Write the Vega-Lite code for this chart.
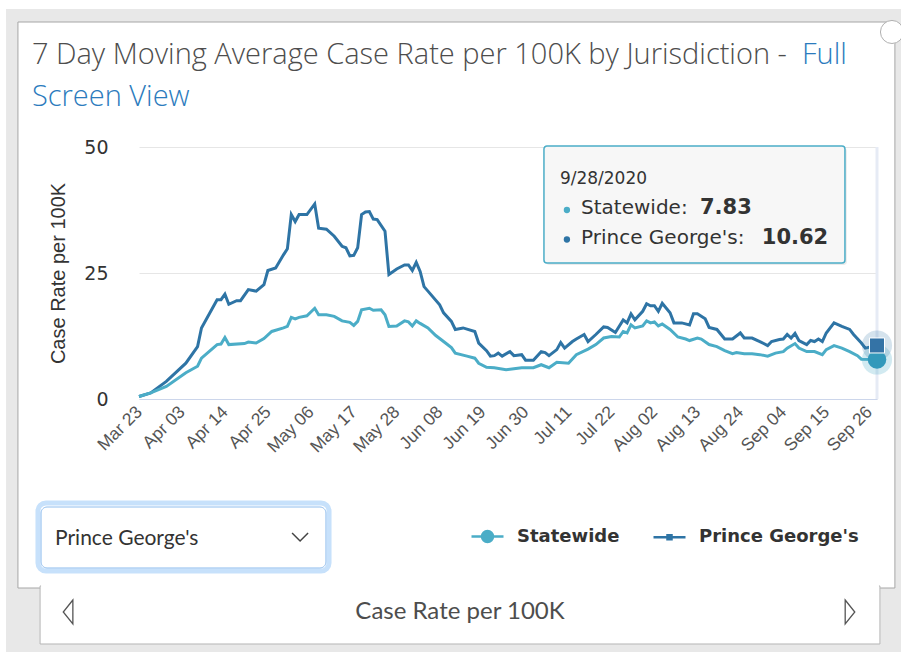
{
  "$schema": "https://vega.github.io/schema/vega-lite/v6.json",
  "width": 738,
  "height": 252,
  "autosize": {"type": "none"},
  "padding": {"left": 139, "top": 147, "right": 24, "bottom": 253},
  "background": "white",
  "config": {"view": {"stroke": null}},
  "data": {"values": [
    {"date":"2020-03-23","series":"Prince George's","rate":0.5},
    {"date":"2020-03-26","series":"Prince George's","rate":1.2},
    {"date":"2020-03-30","series":"Prince George's","rate":3.5},
    {"date":"2020-04-04","series":"Prince George's","rate":7.1},
    {"date":"2020-04-07","series":"Prince George's","rate":10.4},
    {"date":"2020-04-08","series":"Prince George's","rate":14.1},
    {"date":"2020-04-12","series":"Prince George's","rate":19.7},
    {"date":"2020-04-13","series":"Prince George's","rate":19.7},
    {"date":"2020-04-14","series":"Prince George's","rate":20.8},
    {"date":"2020-04-15","series":"Prince George's","rate":18.8},
    {"date":"2020-04-17","series":"Prince George's","rate":19.5},
    {"date":"2020-04-18","series":"Prince George's","rate":19.5},
    {"date":"2020-04-20","series":"Prince George's","rate":21.7},
    {"date":"2020-04-22","series":"Prince George's","rate":21.4},
    {"date":"2020-04-24","series":"Prince George's","rate":22.7},
    {"date":"2020-04-25","series":"Prince George's","rate":25.5},
    {"date":"2020-04-27","series":"Prince George's","rate":26.0},
    {"date":"2020-04-29","series":"Prince George's","rate":28.6},
    {"date":"2020-04-30","series":"Prince George's","rate":29.8},
    {"date":"2020-05-01","series":"Prince George's","rate":36.6},
    {"date":"2020-05-02","series":"Prince George's","rate":35.2},
    {"date":"2020-05-03","series":"Prince George's","rate":36.6},
    {"date":"2020-05-05","series":"Prince George's","rate":36.6},
    {"date":"2020-05-07","series":"Prince George's","rate":38.7},
    {"date":"2020-05-08","series":"Prince George's","rate":33.9},
    {"date":"2020-05-10","series":"Prince George's","rate":33.7},
    {"date":"2020-05-12","series":"Prince George's","rate":32.3},
    {"date":"2020-05-14","series":"Prince George's","rate":30.3},
    {"date":"2020-05-15","series":"Prince George's","rate":30.0},
    {"date":"2020-05-16","series":"Prince George's","rate":28.4},
    {"date":"2020-05-17","series":"Prince George's","rate":28.5},
    {"date":"2020-05-18","series":"Prince George's","rate":30.0},
    {"date":"2020-05-19","series":"Prince George's","rate":36.6},
    {"date":"2020-05-20","series":"Prince George's","rate":37.1},
    {"date":"2020-05-21","series":"Prince George's","rate":37.2},
    {"date":"2020-05-22","series":"Prince George's","rate":35.7},
    {"date":"2020-05-23","series":"Prince George's","rate":35.6},
    {"date":"2020-05-25","series":"Prince George's","rate":33.3},
    {"date":"2020-05-26","series":"Prince George's","rate":24.7},
    {"date":"2020-05-28","series":"Prince George's","rate":25.8},
    {"date":"2020-05-30","series":"Prince George's","rate":26.6},
    {"date":"2020-05-31","series":"Prince George's","rate":26.6},
    {"date":"2020-06-01","series":"Prince George's","rate":25.5},
    {"date":"2020-06-02","series":"Prince George's","rate":27.1},
    {"date":"2020-06-03","series":"Prince George's","rate":25.3},
    {"date":"2020-06-04","series":"Prince George's","rate":22.3},
    {"date":"2020-06-05","series":"Prince George's","rate":21.4},
    {"date":"2020-06-08","series":"Prince George's","rate":18.7},
    {"date":"2020-06-09","series":"Prince George's","rate":17.1},
    {"date":"2020-06-11","series":"Prince George's","rate":15.4},
    {"date":"2020-06-12","series":"Prince George's","rate":13.8},
    {"date":"2020-06-14","series":"Prince George's","rate":14.1},
    {"date":"2020-06-17","series":"Prince George's","rate":13.4},
    {"date":"2020-06-18","series":"Prince George's","rate":11.1},
    {"date":"2020-06-20","series":"Prince George's","rate":9.6},
    {"date":"2020-06-21","series":"Prince George's","rate":8.5},
    {"date":"2020-06-22","series":"Prince George's","rate":8.6},
    {"date":"2020-06-23","series":"Prince George's","rate":9.1},
    {"date":"2020-06-24","series":"Prince George's","rate":8.5},
    {"date":"2020-06-26","series":"Prince George's","rate":9.4},
    {"date":"2020-06-27","series":"Prince George's","rate":8.6},
    {"date":"2020-06-29","series":"Prince George's","rate":8.8},
    {"date":"2020-06-30","series":"Prince George's","rate":7.7},
    {"date":"2020-07-02","series":"Prince George's","rate":7.7},
    {"date":"2020-07-04","series":"Prince George's","rate":9.4},
    {"date":"2020-07-05","series":"Prince George's","rate":9.2},
    {"date":"2020-07-06","series":"Prince George's","rate":8.6},
    {"date":"2020-07-08","series":"Prince George's","rate":9.8},
    {"date":"2020-07-09","series":"Prince George's","rate":11.2},
    {"date":"2020-07-10","series":"Prince George's","rate":10.1},
    {"date":"2020-07-12","series":"Prince George's","rate":11.4},
    {"date":"2020-07-13","series":"Prince George's","rate":11.9},
    {"date":"2020-07-15","series":"Prince George's","rate":12.8},
    {"date":"2020-07-16","series":"Prince George's","rate":11.4},
    {"date":"2020-07-18","series":"Prince George's","rate":12.8},
    {"date":"2020-07-20","series":"Prince George's","rate":14.3},
    {"date":"2020-07-21","series":"Prince George's","rate":14.2},
    {"date":"2020-07-23","series":"Prince George's","rate":13.2},
    {"date":"2020-07-25","series":"Prince George's","rate":15.7},
    {"date":"2020-07-26","series":"Prince George's","rate":15.1},
    {"date":"2020-07-27","series":"Prince George's","rate":16.9},
    {"date":"2020-07-28","series":"Prince George's","rate":15.7},
    {"date":"2020-07-30","series":"Prince George's","rate":17.4},
    {"date":"2020-07-31","series":"Prince George's","rate":18.9},
    {"date":"2020-08-01","series":"Prince George's","rate":18.5},
    {"date":"2020-08-02","series":"Prince George's","rate":18.5},
    {"date":"2020-08-03","series":"Prince George's","rate":17.4},
    {"date":"2020-08-04","series":"Prince George's","rate":19.0},
    {"date":"2020-08-06","series":"Prince George's","rate":17.1},
    {"date":"2020-08-07","series":"Prince George's","rate":15.1},
    {"date":"2020-08-09","series":"Prince George's","rate":15.1},
    {"date":"2020-08-11","series":"Prince George's","rate":14.7},
    {"date":"2020-08-12","series":"Prince George's","rate":16.9},
    {"date":"2020-08-13","series":"Prince George's","rate":16.9},
    {"date":"2020-08-15","series":"Prince George's","rate":15.9},
    {"date":"2020-08-16","series":"Prince George's","rate":14.2},
    {"date":"2020-08-18","series":"Prince George's","rate":13.8},
    {"date":"2020-08-20","series":"Prince George's","rate":11.9},
    {"date":"2020-08-22","series":"Prince George's","rate":11.9},
    {"date":"2020-08-24","series":"Prince George's","rate":13.1},
    {"date":"2020-08-25","series":"Prince George's","rate":12.1},
    {"date":"2020-08-27","series":"Prince George's","rate":12.1},
    {"date":"2020-08-29","series":"Prince George's","rate":11.4},
    {"date":"2020-08-31","series":"Prince George's","rate":10.6},
    {"date":"2020-09-01","series":"Prince George's","rate":11.4},
    {"date":"2020-09-03","series":"Prince George's","rate":11.8},
    {"date":"2020-09-04","series":"Prince George's","rate":11.9},
    {"date":"2020-09-05","series":"Prince George's","rate":12.8},
    {"date":"2020-09-06","series":"Prince George's","rate":12.1},
    {"date":"2020-09-07","series":"Prince George's","rate":13.0},
    {"date":"2020-09-08","series":"Prince George's","rate":11.6},
    {"date":"2020-09-10","series":"Prince George's","rate":10.8},
    {"date":"2020-09-11","series":"Prince George's","rate":11.6},
    {"date":"2020-09-12","series":"Prince George's","rate":11.4},
    {"date":"2020-09-13","series":"Prince George's","rate":11.9},
    {"date":"2020-09-14","series":"Prince George's","rate":11.4},
    {"date":"2020-09-15","series":"Prince George's","rate":13.1},
    {"date":"2020-09-17","series":"Prince George's","rate":15.1},
    {"date":"2020-09-19","series":"Prince George's","rate":14.4},
    {"date":"2020-09-21","series":"Prince George's","rate":13.8},
    {"date":"2020-09-22","series":"Prince George's","rate":12.8},
    {"date":"2020-09-24","series":"Prince George's","rate":11.1},
    {"date":"2020-09-25","series":"Prince George's","rate":10.1},
    {"date":"2020-09-28","series":"Prince George's","rate":10.62},
    {"date":"2020-03-23","series":"Statewide","rate":0.5},
    {"date":"2020-03-26","series":"Statewide","rate":1.2},
    {"date":"2020-03-30","series":"Statewide","rate":2.5},
    {"date":"2020-04-04","series":"Statewide","rate":5.2},
    {"date":"2020-04-07","series":"Statewide","rate":6.5},
    {"date":"2020-04-08","series":"Statewide","rate":8.1},
    {"date":"2020-04-12","series":"Statewide","rate":10.8},
    {"date":"2020-04-13","series":"Statewide","rate":10.9},
    {"date":"2020-04-14","series":"Statewide","rate":12.2},
    {"date":"2020-04-15","series":"Statewide","rate":10.8},
    {"date":"2020-04-19","series":"Statewide","rate":11.0},
    {"date":"2020-04-20","series":"Statewide","rate":11.3},
    {"date":"2020-04-22","series":"Statewide","rate":11.1},
    {"date":"2020-04-24","series":"Statewide","rate":12.0},
    {"date":"2020-04-26","series":"Statewide","rate":13.4},
    {"date":"2020-04-29","series":"Statewide","rate":14.1},
    {"date":"2020-04-30","series":"Statewide","rate":14.4},
    {"date":"2020-05-01","series":"Statewide","rate":16.2},
    {"date":"2020-05-02","series":"Statewide","rate":15.9},
    {"date":"2020-05-03","series":"Statewide","rate":16.2},
    {"date":"2020-05-05","series":"Statewide","rate":16.5},
    {"date":"2020-05-07","series":"Statewide","rate":18.0},
    {"date":"2020-05-08","series":"Statewide","rate":16.7},
    {"date":"2020-05-10","series":"Statewide","rate":16.7},
    {"date":"2020-05-12","series":"Statewide","rate":16.4},
    {"date":"2020-05-14","series":"Statewide","rate":15.5},
    {"date":"2020-05-16","series":"Statewide","rate":15.2},
    {"date":"2020-05-17","series":"Statewide","rate":14.6},
    {"date":"2020-05-18","series":"Statewide","rate":15.4},
    {"date":"2020-05-19","series":"Statewide","rate":17.7},
    {"date":"2020-05-21","series":"Statewide","rate":18.0},
    {"date":"2020-05-22","series":"Statewide","rate":17.6},
    {"date":"2020-05-24","series":"Statewide","rate":17.7},
    {"date":"2020-05-25","series":"Statewide","rate":16.7},
    {"date":"2020-05-26","series":"Statewide","rate":14.4},
    {"date":"2020-05-28","series":"Statewide","rate":14.5},
    {"date":"2020-05-30","series":"Statewide","rate":15.5},
    {"date":"2020-05-31","series":"Statewide","rate":15.3},
    {"date":"2020-06-01","series":"Statewide","rate":14.5},
    {"date":"2020-06-02","series":"Statewide","rate":15.5},
    {"date":"2020-06-03","series":"Statewide","rate":15.0},
    {"date":"2020-06-05","series":"Statewide","rate":14.1},
    {"date":"2020-06-07","series":"Statewide","rate":12.6},
    {"date":"2020-06-09","series":"Statewide","rate":11.4},
    {"date":"2020-06-11","series":"Statewide","rate":10.2},
    {"date":"2020-06-12","series":"Statewide","rate":9.1},
    {"date":"2020-06-15","series":"Statewide","rate":8.5},
    {"date":"2020-06-17","series":"Statewide","rate":8.1},
    {"date":"2020-06-18","series":"Statewide","rate":7.1},
    {"date":"2020-06-20","series":"Statewide","rate":6.3},
    {"date":"2020-06-22","series":"Statewide","rate":6.2},
    {"date":"2020-06-25","series":"Statewide","rate":5.8},
    {"date":"2020-06-27","series":"Statewide","rate":6.0},
    {"date":"2020-06-29","series":"Statewide","rate":6.2},
    {"date":"2020-07-02","series":"Statewide","rate":6.2},
    {"date":"2020-07-04","series":"Statewide","rate":6.8},
    {"date":"2020-07-06","series":"Statewide","rate":6.2},
    {"date":"2020-07-08","series":"Statewide","rate":7.3},
    {"date":"2020-07-11","series":"Statewide","rate":7.1},
    {"date":"2020-07-13","series":"Statewide","rate":8.8},
    {"date":"2020-07-16","series":"Statewide","rate":9.9},
    {"date":"2020-07-18","series":"Statewide","rate":10.8},
    {"date":"2020-07-20","series":"Statewide","rate":12.1},
    {"date":"2020-07-22","series":"Statewide","rate":12.4},
    {"date":"2020-07-24","series":"Statewide","rate":12.3},
    {"date":"2020-07-25","series":"Statewide","rate":13.4},
    {"date":"2020-07-26","series":"Statewide","rate":13.1},
    {"date":"2020-07-27","series":"Statewide","rate":14.7},
    {"date":"2020-07-28","series":"Statewide","rate":14.1},
    {"date":"2020-07-30","series":"Statewide","rate":14.5},
    {"date":"2020-07-31","series":"Statewide","rate":15.5},
    {"date":"2020-08-01","series":"Statewide","rate":15.1},
    {"date":"2020-08-02","series":"Statewide","rate":15.3},
    {"date":"2020-08-03","series":"Statewide","rate":14.5},
    {"date":"2020-08-04","series":"Statewide","rate":14.9},
    {"date":"2020-08-06","series":"Statewide","rate":13.8},
    {"date":"2020-08-08","series":"Statewide","rate":12.3},
    {"date":"2020-08-10","series":"Statewide","rate":11.9},
    {"date":"2020-08-11","series":"Statewide","rate":11.6},
    {"date":"2020-08-13","series":"Statewide","rate":12.1},
    {"date":"2020-08-14","series":"Statewide","rate":11.9},
    {"date":"2020-08-16","series":"Statewide","rate":10.8},
    {"date":"2020-08-18","series":"Statewide","rate":10.4},
    {"date":"2020-08-20","series":"Statewide","rate":9.6},
    {"date":"2020-08-22","series":"Statewide","rate":9.0},
    {"date":"2020-08-23","series":"Statewide","rate":9.2},
    {"date":"2020-08-25","series":"Statewide","rate":9.0},
    {"date":"2020-08-27","series":"Statewide","rate":9.0},
    {"date":"2020-08-29","series":"Statewide","rate":8.8},
    {"date":"2020-08-31","series":"Statewide","rate":8.5},
    {"date":"2020-09-02","series":"Statewide","rate":9.1},
    {"date":"2020-09-04","series":"Statewide","rate":9.4},
    {"date":"2020-09-05","series":"Statewide","rate":10.1},
    {"date":"2020-09-07","series":"Statewide","rate":11.0},
    {"date":"2020-09-08","series":"Statewide","rate":10.1},
    {"date":"2020-09-10","series":"Statewide","rate":9.4},
    {"date":"2020-09-12","series":"Statewide","rate":9.4},
    {"date":"2020-09-14","series":"Statewide","rate":8.8},
    {"date":"2020-09-15","series":"Statewide","rate":9.8},
    {"date":"2020-09-17","series":"Statewide","rate":10.6},
    {"date":"2020-09-19","series":"Statewide","rate":10.1},
    {"date":"2020-09-21","series":"Statewide","rate":9.4},
    {"date":"2020-09-23","series":"Statewide","rate":8.6},
    {"date":"2020-09-24","series":"Statewide","rate":7.9},
    {"date":"2020-09-28","series":"Statewide","rate":7.83}
  ]},
  "layer": [
    {
      "data": {"values": [{}]},
      "mark": {"type": "rect", "clip": false, "fill": "#e8e8e8"},
      "encoding": {
        "x": {"datum": {"year": 2020, "month": 3, "date": -12, "hours": 23, "utc": true}, "type": "temporal"},
        "x2": {"datum": {"year": 2020, "month": 3, "date": 230, "utc": true}},
        "y": {"datum": 77.38, "type": "quantitative"},
        "y2": {"datum": 74.8}
      }
    },
    {
      "data": {"values": [{}]},
      "mark": {"type": "rect", "clip": false, "fill": "#e8e8e8"},
      "encoding": {
        "x": {"datum": {"year": 2020, "month": 3, "date": -12, "hours": 23, "utc": true}, "type": "temporal"},
        "x2": {"datum": {"year": 2020, "month": 3, "date": -8, "utc": true}},
        "y": {"datum": 77.38, "type": "quantitative"},
        "y2": {"datum": -60}
      }
    },
    {
      "data": {"values": [{}]},
      "mark": {"type": "rect", "clip": false, "fill": "#e8e8e8"},
      "encoding": {
        "x": {"datum": {"year": 2020, "month": 3, "date": 216, "hours": 14, "utc": true}, "type": "temporal"},
        "x2": {"datum": {"year": 2020, "month": 3, "date": 230, "utc": true}},
        "y": {"datum": 77.38, "type": "quantitative"},
        "y2": {"datum": -60}
      }
    },
    {
      "data": {"values": [{}]},
      "mark": {"type": "rect", "clip": false, "fill": "#e8e8e8"},
      "encoding": {
        "x": {"datum": {"year": 2020, "month": 3, "date": -12, "hours": 23, "utc": true}, "type": "temporal"},
        "x2": {"datum": {"year": 2020, "month": 3, "date": 230, "utc": true}},
        "y": {"datum": -37.5, "type": "quantitative"},
        "y2": {"datum": -60}
      }
    },
    {
      "data": {"values": [{}]},
      "mark": {"type": "rect", "clip": false, "filled": false, "stroke": "#a6a6a6", "strokeWidth": 1},
      "encoding": {
        "x": {"datum": {"year": 2020, "month": 3, "date": -8, "utc": true}, "type": "temporal"},
        "x2": {"datum": {"year": 2020, "month": 3, "date": 216, "hours": 14, "utc": true}},
        "y": {"datum": 74.8, "type": "quantitative"},
        "y2": {"datum": -37.5}
      }
    },
    {
      "data": {"values": [{}]},
      "mark": {"type": "rect", "clip": false, "fill": "white", "stroke": "#b5b5b5", "strokeWidth": 1},
      "encoding": {
        "x": {"datum": {"year": 2020, "month": 3, "date": -3, "hours": 16, "utc": true}, "type": "temporal"},
        "x2": {"datum": {"year": 2020, "month": 3, "date": 212, "hours": 18, "utc": true}},
        "y": {"datum": -37.1, "type": "quantitative"},
        "y2": {"datum": -48.61}
      }
    },
    {
      "data": {"values": [{}]},
      "mark": {"type": "rect", "clip": false, "fill": "white"},
      "encoding": {
        "x": {"datum": {"year": 2020, "month": 3, "date": -3, "hours": 22, "utc": true}, "type": "temporal"},
        "x2": {"datum": {"year": 2020, "month": 3, "date": 212, "hours": 12, "utc": true}},
        "y": {"datum": -35.91, "type": "quantitative"},
        "y2": {"datum": -38.29}
      }
    },
    {
      "data": {"values": [{}]},
      "mark": {"type": "point", "clip": false, "shape": "circle", "size": 531, "filled": true, "fill": "white", "stroke": "#b0b0b0", "strokeWidth": 1, "opacity": 1},
      "encoding": {
        "x": {"datum": {"year": 2020, "month": 3, "date": 215, "hours": 20, "utc": true}, "type": "temporal"},
        "y": {"datum": 72.82, "type": "quantitative"}
      }
    },
    {
      "data": {"values": [{}]},
      "mark": {"type": "text", "clip": false, "text": "7 Day Moving Average Case Rate per 100K by Jurisdiction -", "align": "left", "baseline": "middle", "font": "Open Sans", "fontSize": 29, "fontWeight": 300, "color": "#4d4d4d"},
      "encoding": {
        "x": {"datum": {"year": 2020, "month": 3, "date": -5, "hours": 14, "utc": true}, "type": "temporal"},
        "y": {"datum": 68.25, "type": "quantitative"}
      }
    },
    {
      "data": {"values": [{}]},
      "mark": {"type": "text", "clip": false, "text": "Full", "align": "left", "baseline": "middle", "font": "Open Sans", "fontSize": 29, "fontWeight": 300, "color": "#2b7bbd"},
      "encoding": {
        "x": {"datum": {"year": 2020, "month": 3, "date": 192, "hours": 19, "utc": true}, "type": "temporal"},
        "y": {"datum": 68.25, "type": "quantitative"}
      }
    },
    {
      "data": {"values": [{}]},
      "mark": {"type": "text", "clip": false, "text": "Screen View", "align": "left", "baseline": "middle", "font": "Open Sans", "fontSize": 29, "fontWeight": 300, "color": "#2b7bbd"},
      "encoding": {
        "x": {"datum": {"year": 2020, "month": 3, "date": -5, "hours": 14, "utc": true}, "type": "temporal"},
        "y": {"datum": 59.92, "type": "quantitative"}
      }
    },
    {
      "data": {"values": [{}]},
      "mark": {"type": "rect", "clip": false, "fill": "white", "stroke": "#c7e1fb", "strokeWidth": 5, "cornerRadius": 8},
      "encoding": {
        "x": {"datum": {"year": 2020, "month": 3, "date": -3, "hours": 3, "utc": true}, "type": "temporal"},
        "x2": {"datum": {"year": 2020, "month": 3, "date": 71, "hours": 16, "utc": true}},
        "y": {"datum": -20.63, "type": "quantitative"},
        "y2": {"datum": -34.13}
      }
    },
    {
      "data": {"values": [{}]},
      "mark": {"type": "rect", "clip": false, "fill": "white", "stroke": "#8fbdee", "strokeWidth": 1, "cornerRadius": 6},
      "encoding": {
        "x": {"datum": {"year": 2020, "month": 3, "date": -3, "hours": 22, "utc": true}, "type": "temporal"},
        "x2": {"datum": {"year": 2020, "month": 3, "date": 70, "hours": 21, "utc": true}},
        "y": {"datum": -21.43, "type": "quantitative"},
        "y2": {"datum": -33.53}
      }
    },
    {
      "data": {"values": [{}]},
      "mark": {"type": "text", "clip": false, "text": "Prince George's", "align": "left", "baseline": "middle", "font": "Lato", "fontSize": 21, "color": "#333333"},
      "encoding": {
        "x": {"datum": {"year": 2020, "month": 3, "date": 1, "hours": 12, "utc": true}, "type": "temporal"},
        "y": {"datum": -27.78, "type": "quantitative"}
      }
    },
    {
      "data": {"values": [{}]},
      "mark": {"type": "point", "clip": false, "shape": "M-1,-0.5L0,0.5L1,-0.5", "size": 256, "filled": false, "stroke": "#444444", "strokeWidth": 1.5, "opacity": 1},
      "encoding": {
        "x": {"datum": {"year": 2020, "month": 3, "date": 64, "hours": 6, "utc": true}, "type": "temporal"},
        "y": {"datum": -27.38, "type": "quantitative"}
      }
    },
    {
      "data": {"values": [{}]},
      "mark": {"type": "text", "clip": false, "text": "Case Rate per 100K", "align": "center", "baseline": "middle", "font": "Lato", "fontSize": 24, "color": "#4d4d4d"},
      "encoding": {
        "x": {"datum": {"year": 2020, "month": 3, "date": 105, "hours": 5, "utc": true}, "type": "temporal"},
        "y": {"datum": -42.26, "type": "quantitative"}
      }
    },
    {
      "data": {"values": [{}]},
      "mark": {"type": "point", "clip": false, "shape": "M0.4,-1L-0.4,0L0.4,1Z", "size": 576, "filled": false, "stroke": "#555555", "strokeWidth": 1.3, "opacity": 1},
      "encoding": {
        "x": {"datum": {"year": 2020, "month": 3, "date": 4, "hours": 20, "utc": true}, "type": "temporal"},
        "y": {"datum": -42.26, "type": "quantitative"}
      }
    },
    {
      "data": {"values": [{}]},
      "mark": {"type": "point", "clip": false, "shape": "M-0.4,-1L0.4,0L-0.4,1Z", "size": 576, "filled": false, "stroke": "#555555", "strokeWidth": 1.3, "opacity": 1},
      "encoding": {
        "x": {"datum": {"year": 2020, "month": 3, "date": 205, "hours": 2, "utc": true}, "type": "temporal"},
        "y": {"datum": -42.26, "type": "quantitative"}
      }
    },
    {
      "data": {"values": [{}]},
      "mark": {"type": "rule", "clip": false, "color": "#e6ebf5", "strokeWidth": 3},
      "encoding": {
        "x": {"datum": {"year": 2020, "month": 9, "date": 28, "utc": true}, "type": "temporal"},
        "y": {"datum": 0, "type": "quantitative"},
        "y2": {"datum": 50}
      }
    },
    {
      "mark": {"type": "line", "strokeWidth": 3, "clip": false},
      "encoding": {
        "x": {
          "field": "date", "type": "temporal",
          "scale": {"type": "utc", "nice": false, "domain": [{"year": 2020, "month": 3, "date": 23, "utc": true}, {"year": 2020, "month": 9, "date": 28, "utc": true}]},
          "axis": {
            "title": null, "format": "%b %d", "labelAngle": -45, "labelAlign": "right", "labelBaseline": "middle", "labelPadding": 10,
            "labelFont": "Liberation Sans", "labelFontSize": 17.5, "labelColor": "#555555", "ticks": false, "grid": false,
            "domainColor": "#ccd6eb", "domainWidth": 1, "labelOverlap": false,
            "values": [
              {"year": 2020, "month": 3, "date": 23, "utc": true},
              {"year": 2020, "month": 4, "date": 3, "utc": true},
              {"year": 2020, "month": 4, "date": 14, "utc": true},
              {"year": 2020, "month": 4, "date": 25, "utc": true},
              {"year": 2020, "month": 5, "date": 6, "utc": true},
              {"year": 2020, "month": 5, "date": 17, "utc": true},
              {"year": 2020, "month": 5, "date": 28, "utc": true},
              {"year": 2020, "month": 6, "date": 8, "utc": true},
              {"year": 2020, "month": 6, "date": 19, "utc": true},
              {"year": 2020, "month": 6, "date": 30, "utc": true},
              {"year": 2020, "month": 7, "date": 11, "utc": true},
              {"year": 2020, "month": 7, "date": 22, "utc": true},
              {"year": 2020, "month": 8, "date": 2, "utc": true},
              {"year": 2020, "month": 8, "date": 13, "utc": true},
              {"year": 2020, "month": 8, "date": 24, "utc": true},
              {"year": 2020, "month": 9, "date": 4, "utc": true},
              {"year": 2020, "month": 9, "date": 15, "utc": true},
              {"year": 2020, "month": 9, "date": 26, "utc": true}
            ]
          }
        },
        "y": {
          "field": "rate", "type": "quantitative",
          "scale": {"domain": [0, 50], "nice": false},
          "axis": {
            "title": "Case Rate per 100K", "values": [0, 25, 50], "grid": true, "gridColor": "#e6e6e6", "gridWidth": 1,
            "domain": false, "ticks": false, "labelFont": "DejaVu Sans", "labelFontSize": 19, "labelColor": "#333333", "labelPadding": 31,
            "titleFont": "Liberation Sans", "titleFontSize": 20, "titleFontWeight": "normal", "titleColor": "#333333", "titlePadding": 15
          }
        },
        "color": {
          "field": "series", "type": "nominal",
          "scale": {"domain": ["Statewide", "Prince George's"], "range": ["#4badc7", "#2e74a5"]},
          "legend": {
            "orient": "none", "legendX": 337, "legendY": 378, "direction": "horizontal", "columns": 2, "title": null,
            "labelFont": "DejaVu Sans", "labelFontSize": 18, "labelFontWeight": "bold", "labelColor": "#333333",
            "labelOffset": 18, "labelLimit": 300, "symbolSize": 400, "symbolStrokeWidth": 2.5, "columnPadding": 28,
            "encode": {"symbols": {"update": {
              "shape": {"signal": "datum.value === 'Statewide' ? 'M-1.6,0H1.6M0.55,0A0.55,0.55,0,1,1,-0.55,0A0.55,0.55,0,1,1,0.55,0Z' : 'M-1.6,0H1.6M-0.2,-0.2H0.2V0.2H-0.2Z'"},
              "fill": {"scale": "color", "field": "value"},
              "stroke": {"scale": "color", "field": "value"},
              "opacity": {"value": 1}
            }}}
          }
        }
      }
    },
    {
      "transform": [{"filter": "datum.series === 'Statewide' && time(datum.date) === utc(2020, 8, 28)"}],
      "mark": {"type": "point", "clip": false, "shape": "circle", "size": 908, "filled": true, "fill": "#4badc7", "opacity": 0.25},
      "encoding": {"x": {"field": "date", "type": "temporal"}, "y": {"field": "rate", "type": "quantitative"}}
    },
    {
      "transform": [{"filter": "datum.series !== 'Statewide' && time(datum.date) === utc(2020, 8, 28)"}],
      "mark": {"type": "point", "clip": false, "shape": "circle", "size": 908, "filled": true, "fill": "#2e74a5", "opacity": 0.2},
      "encoding": {"x": {"field": "date", "type": "temporal"}, "y": {"field": "rate", "type": "quantitative"}}
    },
    {
      "transform": [{"filter": "datum.series === 'Statewide' && time(datum.date) === utc(2020, 8, 28)"}],
      "mark": {"type": "point", "clip": false, "shape": "circle", "size": 346, "filled": true, "fill": "#3399bb", "opacity": 1},
      "encoding": {"x": {"field": "date", "type": "temporal"}, "y": {"field": "rate", "type": "quantitative"}}
    },
    {
      "transform": [{"filter": "datum.series !== 'Statewide' && time(datum.date) === utc(2020, 8, 28)"}],
      "mark": {"type": "point", "clip": false, "shape": "square", "size": 225, "filled": true, "fill": "#3473a6", "stroke": "white", "strokeWidth": 1, "opacity": 1},
      "encoding": {"x": {"field": "date", "type": "temporal"}, "y": {"field": "rate", "type": "quantitative"}}
    },
    {
      "data": {"values": [{}]},
      "mark": {"type": "rect", "clip": false, "fill": "#000000", "opacity": 0.08, "cornerRadius": 3},
      "encoding": {
        "x": {"datum": {"year": 2020, "month": 3, "date": 127, "hours": 6, "utc": true}, "type": "temporal"},
        "x2": {"datum": {"year": 2020, "month": 3, "date": 204, "hours": 7, "utc": true}},
        "y": {"datum": 49.8, "type": "quantitative"},
        "y2": {"datum": 26.59}
      }
    },
    {
      "data": {"values": [{}]},
      "mark": {"type": "rect", "clip": false, "fill": "#f7f7f7", "stroke": "#4badc7", "strokeWidth": 1.5, "cornerRadius": 3},
      "encoding": {
        "x": {"datum": {"year": 2020, "month": 3, "date": 126, "hours": 17, "utc": true}, "type": "temporal"},
        "x2": {"datum": {"year": 2020, "month": 3, "date": 203, "hours": 19, "utc": true}},
        "y": {"datum": 50.2, "type": "quantitative"},
        "y2": {"datum": 26.98}
      }
    },
    {
      "data": {"values": [{}]},
      "mark": {"type": "text", "clip": false, "text": "9/28/2020", "align": "left", "baseline": "middle", "font": "DejaVu Sans", "fontSize": 17, "color": "#333333"},
      "encoding": {
        "x": {"datum": {"year": 2020, "month": 3, "date": 130, "hours": 19, "utc": true}, "type": "temporal"},
        "y": {"datum": 43.65, "type": "quantitative"}
      }
    },
    {
      "data": {"values": [{}]},
      "mark": {"type": "point", "clip": false, "shape": "circle", "size": 40, "filled": true, "fill": "#4badc7", "opacity": 1},
      "encoding": {
        "x": {"datum": {"year": 2020, "month": 3, "date": 132, "hours": 14, "utc": true}, "type": "temporal"},
        "y": {"datum": 37.5, "type": "quantitative"}
      }
    },
    {
      "data": {"values": [{}]},
      "mark": {"type": "text", "clip": false, "text": "Statewide:", "align": "left", "baseline": "middle", "font": "DejaVu Sans", "fontSize": 20, "color": "#333333"},
      "encoding": {
        "x": {"datum": {"year": 2020, "month": 3, "date": 136, "hours": 5, "utc": true}, "type": "temporal"},
        "y": {"datum": 37.8, "type": "quantitative"}
      }
    },
    {
      "data": {"values": [{}]},
      "mark": {"type": "text", "clip": false, "text": "7.83", "align": "left", "baseline": "middle", "font": "DejaVu Sans", "fontSize": 21, "fontWeight": "bold", "color": "#333333"},
      "encoding": {
        "x": {"datum": {"year": 2020, "month": 3, "date": 166, "hours": 16, "utc": true}, "type": "temporal"},
        "y": {"datum": 37.8, "type": "quantitative"}
      }
    },
    {
      "data": {"values": [{}]},
      "mark": {"type": "point", "clip": false, "shape": "circle", "size": 40, "filled": true, "fill": "#2e74a5", "opacity": 1},
      "encoding": {
        "x": {"datum": {"year": 2020, "month": 3, "date": 132, "hours": 14, "utc": true}, "type": "temporal"},
        "y": {"datum": 31.65, "type": "quantitative"}
      }
    },
    {
      "data": {"values": [{}]},
      "mark": {"type": "text", "clip": false, "text": "Prince George's:", "align": "left", "baseline": "middle", "font": "DejaVu Sans", "fontSize": 20, "color": "#333333"},
      "encoding": {
        "x": {"datum": {"year": 2020, "month": 3, "date": 136, "hours": 5, "utc": true}, "type": "temporal"},
        "y": {"datum": 32.04, "type": "quantitative"}
      }
    },
    {
      "data": {"values": [{}]},
      "mark": {"type": "text", "clip": false, "text": "10.62", "align": "left", "baseline": "middle", "font": "DejaVu Sans", "fontSize": 21, "fontWeight": "bold", "color": "#333333"},
      "encoding": {
        "x": {"datum": {"year": 2020, "month": 3, "date": 182, "hours": 12, "utc": true}, "type": "temporal"},
        "y": {"datum": 32.04, "type": "quantitative"}
      }
    }
  ]
}
